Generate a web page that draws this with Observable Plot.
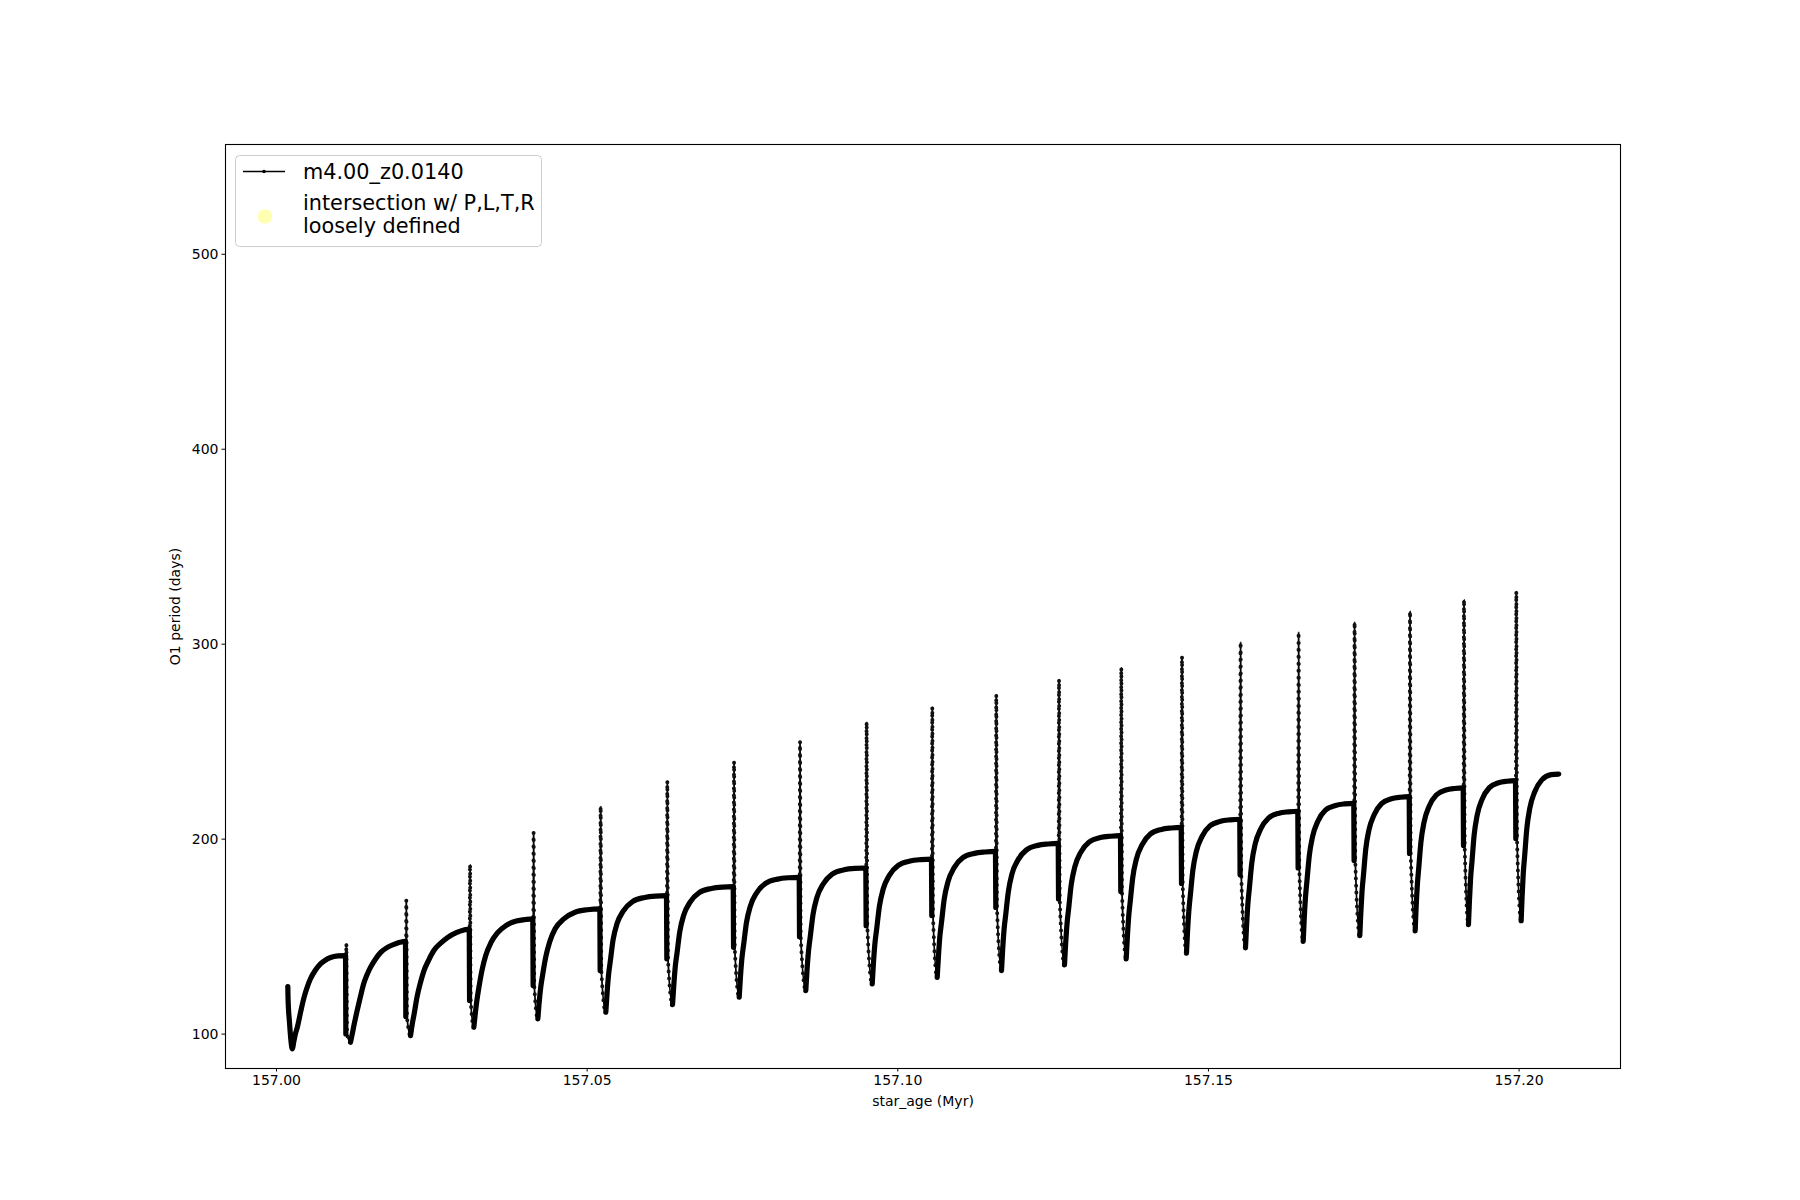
<!DOCTYPE html>
<html><head><meta charset="utf-8">
<script src="https://cdn.jsdelivr.net/npm/d3@7"></script>
<script src="https://cdn.jsdelivr.net/npm/@observablehq/plot@0.6"></script>
<style>
html,body{margin:0;padding:0;background:#fff;}
#wrap{position:relative;width:1800px;height:1200px;}
#legend{position:absolute;left:0;top:0;pointer-events:none;}
</style></head><body><div id="wrap"></div>
<script>
// ---- data ----
const seriesLabel = "m4.00_z0.0140";
const markerLabel = ["intersection w/ P,L,T,R", "loosely defined"];
const xLabel = "star_age (Myr)";
const yLabel = "O1 period (days)";
const xTicks = [157.00, 157.05, 157.10, 157.15, 157.20];
const yTicks = [100, 200, 300, 400, 500];

// start of track
const startAge = [157.00182, 157.00185, 157.00209, 157.00233];
const startValue = [124.4, 118.9, 106.0, 96.5];
// end of track
const endAge = 157.20639;
const endValue = 233.4;

// minimum of each cycle (after each pulse)
const minAge = [157.00253, 157.01191, 157.02157, 157.03176, 157.04206, 157.05300, 157.06374, 157.07447, 157.08519, 157.09588, 157.10634, 157.11669, 157.12683, 157.13676, 157.14646, 157.15596, 157.16525, 157.17436, 157.18327, 157.19185, 157.20033];
const minValue = [92.4, 95.8, 99.2, 103.5, 107.8, 111.2, 115.1, 118.9, 122.3, 125.7, 129.1, 132.6, 135.5, 138.6, 141.5, 144.2, 147.6, 150.5, 153.0, 156.2, 158.2];

// pulses
const pulseAge = [157.01111, 157.02076, 157.03102, 157.04125, 157.05204, 157.06277, 157.07351, 157.08413, 157.09485, 157.10542, 157.11572, 157.12582, 157.13584, 157.14561, 157.15504, 157.16438, 157.17339, 157.18231, 157.19100, 157.19942];
const plateauBefore = [140.3, 147.6, 153.9, 159.1, 164.2, 171.0, 175.6, 180.4, 185.2, 189.8, 193.7, 197.8, 201.8, 206.0, 210.2, 214.3, 218.4, 221.8, 226.3, 230.0];
const dropLow = [100.1, 109.0, 117.2, 124.9, 132.6, 138.6, 144.5, 150.0, 155.6, 160.8, 165.0, 169.3, 173.2, 177.3, 181.8, 185.2, 189.0, 192.7, 196.7, 200.4];
const spikePeak = [146.2, 168.5, 186.8, 203.2, 216.7, 229.6, 239.7, 250.0, 259.9, 267.6, 274.0, 281.8, 287.8, 293.6, 300.9, 306.0, 311.2, 316.8, 322.7, 326.9];
// drop, peak, return: kyr after the pulse
const spikeOffsetKyr = [0.05, 0.13, 0.24];

// recovery after each minimum: kyr after minimum, and period
const recoveryKyr = [
  [0.26, 0.51, 0.81, 1.37, 1.89, 2.40, 2.92, 3.69, 4.55, 5.32, 6.18, 7.38],
  [0.27, 0.53, 1.06, 1.59, 2.12, 2.66, 3.19, 3.98, 4.87, 5.93, 6.99, 7.97],
  [0.28, 0.57, 1.04, 1.61, 2.17, 2.93, 3.78, 4.91, 5.95, 7.37, 8.60],
  [0.24, 0.47, 0.85, 1.33, 1.90, 2.75, 3.80, 5.22, 6.84, 8.36],
  [0.20, 0.45, 0.80, 1.30, 1.90, 2.79, 4.19, 5.99, 7.98],
  [0.20, 0.44, 0.73, 1.17, 1.81, 2.83, 4.30, 6.25, 8.01],
  [0.20, 0.44, 0.73, 1.17, 1.81, 2.83, 4.30, 6.25, 8.01],
  [0.19, 0.43, 0.72, 1.16, 1.79, 2.80, 4.25, 6.18, 7.92],
  [0.19, 0.43, 0.72, 1.16, 1.79, 2.80, 4.25, 6.18, 7.92],
  [0.19, 0.43, 0.72, 1.15, 1.77, 2.77, 4.20, 6.11, 7.83],
  [0.19, 0.42, 0.70, 1.13, 1.74, 2.72, 4.13, 6.01, 7.69],
  [0.18, 0.41, 0.68, 1.10, 1.69, 2.65, 4.02, 5.84, 7.48],
  [0.18, 0.41, 0.68, 1.08, 1.67, 2.61, 3.97, 5.77, 7.39],
  [0.18, 0.40, 0.66, 1.06, 1.64, 2.57, 3.89, 5.67, 7.26],
  [0.17, 0.39, 0.64, 1.03, 1.59, 2.49, 3.77, 5.49, 7.03],
  [0.17, 0.38, 0.63, 1.01, 1.56, 2.44, 3.70, 5.39, 6.90],
  [0.16, 0.37, 0.61, 0.98, 1.51, 2.36, 3.58, 5.21, 6.68],
  [0.16, 0.36, 0.60, 0.95, 1.47, 2.31, 3.50, 5.09, 6.52],
  [0.15, 0.35, 0.58, 0.93, 1.43, 2.24, 3.40, 4.94, 6.34],
  [0.15, 0.34, 0.57, 0.91, 1.40, 2.19, 3.33, 4.84, 6.20],
  [0.15, 0.34, 0.57, 0.91, 1.40, 2.19, 3.33, 4.84]
];
const recoveryValue = [
  [96.2, 100.1, 103.4, 111.6, 118.7, 124.0, 128.3, 132.6, 136.0, 137.9, 139.3, 140.1],
  [99.9, 104.1, 111.9, 119.1, 125.8, 130.5, 134.1, 138.3, 141.9, 144.5, 146.0, 147.1],
  [105.2, 110.1, 118.9, 126.6, 132.6, 138.0, 143.0, 146.8, 149.5, 152.0, 153.4],
  [110.7, 116.8, 124.6, 133.0, 140.2, 146.9, 151.9, 155.8, 158.0, 158.8],
  [115.7, 123.6, 130.9, 139.9, 147.3, 154.0, 159.1, 162.5, 163.8],
  [120.8, 130.3, 137.5, 148.3, 156.7, 163.2, 168.0, 170.1, 170.8],
  [124.8, 134.5, 141.7, 152.6, 161.1, 167.7, 172.6, 174.7, 175.4],
  [128.7, 138.6, 146.0, 157.0, 165.6, 172.4, 177.3, 179.5, 180.2],
  [132.4, 142.4, 150.0, 161.3, 170.1, 177.0, 182.1, 184.3, 185.0],
  [136.0, 146.2, 153.9, 165.4, 174.4, 181.5, 186.6, 188.8, 189.5],
  [139.4, 149.8, 157.5, 169.2, 178.2, 185.3, 190.5, 192.7, 193.4],
  [143.0, 153.5, 161.3, 173.0, 182.2, 189.3, 194.5, 196.8, 197.5],
  [146.1, 156.7, 164.7, 176.6, 185.9, 193.2, 198.5, 200.8, 201.5],
  [149.4, 160.2, 168.3, 180.4, 189.8, 197.2, 202.6, 205.0, 205.7],
  [152.5, 163.5, 171.7, 184.1, 193.7, 201.3, 206.8, 209.2, 209.9],
  [155.4, 166.6, 175.0, 187.7, 197.5, 205.2, 210.8, 213.3, 214.0],
  [158.9, 170.3, 178.8, 191.5, 201.4, 209.2, 214.9, 217.3, 218.1],
  [161.9, 173.3, 181.9, 194.7, 204.7, 212.5, 218.2, 220.7, 221.5],
  [164.7, 176.5, 185.3, 198.5, 208.7, 216.8, 222.6, 225.2, 226.0],
  [168.0, 179.8, 188.7, 202.0, 212.3, 220.4, 226.3, 228.9, 229.7],
  [170.4, 182.5, 191.6, 205.3, 216.0, 224.3, 230.4, 233.1]
];

// ---- build the track table ----
const track = [];   // every point in order
const dense = [];   // densely sampled stretches (drawn thick)
startAge.forEach((a, i) => {
  track.push({age: a, p: startValue[i]});
  dense.push({age: a, p: startValue[i], g: 0});
});
for (let c = 0; c < minAge.length; c++) {
  const m = {age: minAge[c], p: minValue[c]};
  track.push(m); dense.push({...m, g: c});
  recoveryKyr[c].forEach((t, k) => {
    const d = {age: minAge[c] + t / 1000, p: recoveryValue[c][k]};
    track.push(d); dense.push({...d, g: c});
  });
  if (c < pulseAge.length) {
    const pa = pulseAge[c];
    const pl = {age: pa, p: plateauBefore[c]};
    const dr = {age: pa + spikeOffsetKyr[0] / 1000, p: dropLow[c]};
    track.push(pl, dr);
    dense.push({...pl, g: c}, {...dr, g: c});
    track.push({age: pa + spikeOffsetKyr[1] / 1000, p: spikePeak[c]});
    track.push({age: pa + spikeOffsetKyr[2] / 1000, p: dropLow[c]});
  } else {
    track.push({age: endAge, p: endValue});
    dense.push({age: endAge, p: endValue, g: c});
  }
}

const chart = Plot.plot({
  width: 1800,
  height: 1200,
  marginLeft: 225,
  marginRight: 180,
  marginTop: 144,
  marginBottom: 132,
  style: {fontFamily: "'DejaVu Sans', sans-serif", fontSize: "14px", background: "white", color: "black", overflow: "visible"},
  x: {domain: [156.99179, 157.21632]},
  y: {domain: [82.36, 556.3]},
  marks: [
    Plot.line(track, {x: "age", y: "p", stroke: "black", strokeWidth: 1.8, curve: "monotone-x"}),
    Plot.line(track, {x: "age", y: "p", stroke: "#111", strokeWidth: 4, strokeDasharray: "0 7", strokeLinecap: "round", curve: "monotone-x"}),
    Plot.line(dense, {x: "age", y: "p", z: "g", stroke: "black", strokeWidth: 5.2, strokeLinecap: "round", strokeLinejoin: "round", curve: "monotone-x"}),
    Plot.frame({stroke: "black", strokeWidth: 1.1}),
    Plot.axisX({ticks: xTicks, tickFormat: d3.format(".2f"), tickSize: 3.5, tickPadding: 3.5, label: null, fontSize: 14}),
    Plot.axisY({ticks: yTicks, tickFormat: d3.format("d"), tickSize: 3.5, tickPadding: 3.5, label: null, fontSize: 14}),
    Plot.text([xLabel], {frameAnchor: "bottom", dy: 37.5, text: d => d, fontSize: 14, fill: "black"}),
    Plot.text([yLabel], {frameAnchor: "left", dx: -50, rotate: -90, textAnchor: "middle", text: d => d, fontSize: 14, fill: "black"})
  ]
});
document.getElementById("wrap").appendChild(chart);

// ---- legend ----
const lg = d3.select("#wrap").append("svg").attr("id", "legend")
  .attr("width", 1800).attr("height", 1200)
  .style("font-family", "'DejaVu Sans', sans-serif");
lg.append("rect").attr("x", 235.5).attr("y", 155.5).attr("width", 306).attr("height", 91)
  .attr("rx", 4).attr("fill", "white").attr("fill-opacity", 0.8).attr("stroke", "#cccccc").attr("stroke-width", 1);
lg.append("line").attr("x1", 243).attr("x2", 285).attr("y1", 171.5).attr("y2", 171.5)
  .attr("stroke", "black").attr("stroke-width", 1.5);
lg.append("circle").attr("cx", 264).attr("cy", 171.5).attr("r", 1.8).attr("fill", "black");
lg.append("text").attr("x", 303).attr("y", 172).attr("dominant-baseline", "central")
  .attr("font-size", 20.8).text(seriesLabel);
lg.append("circle").attr("cx", 265).attr("cy", 216.5).attr("r", 7.3).attr("fill", "#ffffb2");
markerLabel.forEach((t, i) => {
  lg.append("text").attr("x", 303).attr("y", 203 + i * 22.5).attr("dominant-baseline", "central")
    .attr("font-size", 20.8).text(t);
});
</script>
</body></html>
